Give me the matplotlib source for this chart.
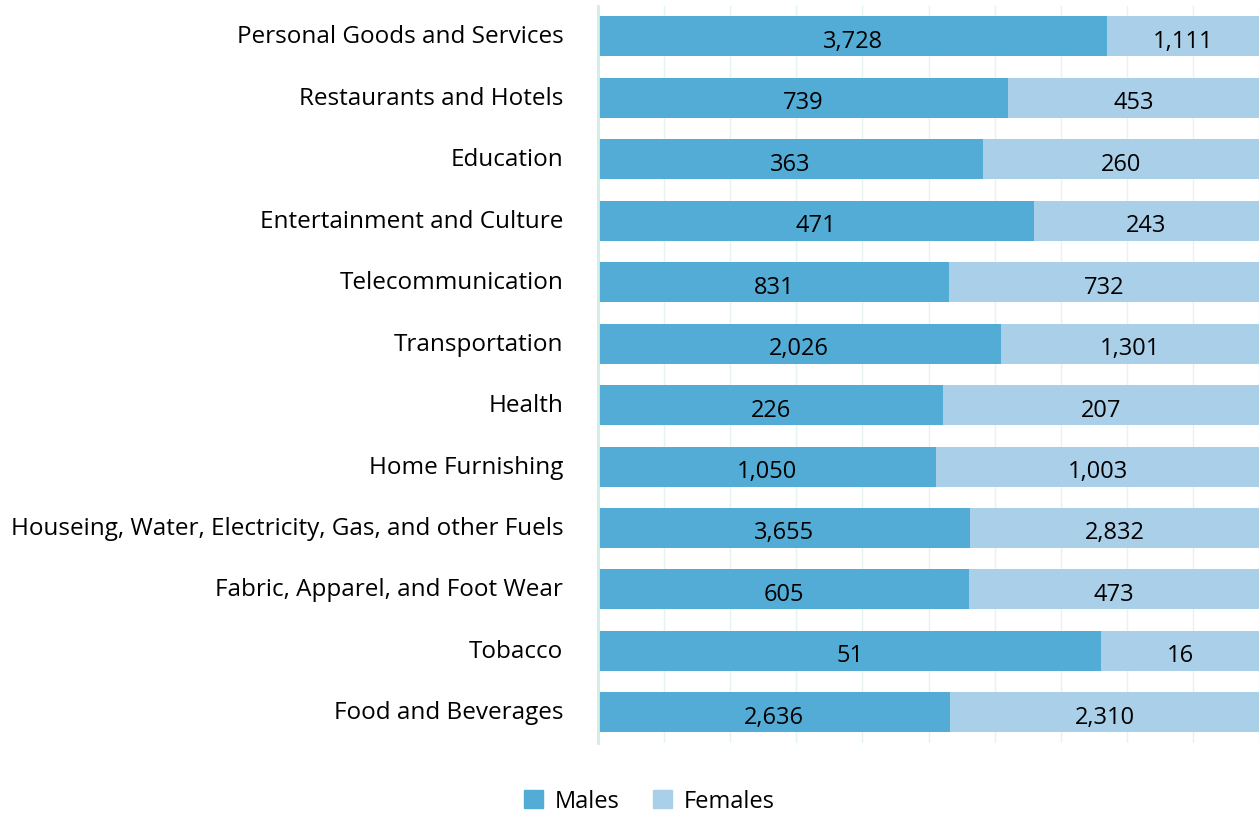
import numpy as np
import matplotlib.pyplot as plt
from matplotlib.transforms import ScaledTranslation

# data (top to bottom)
categories = ['Personal Goods and Services', 'Restaurants and Hotels', 'Education',
              'Entertainment and Culture', 'Telecommunication', 'Transportation',
              'Health', 'Home Furnishing',
              'Houseing, Water, Electricity, Gas, and other Fuels',
              'Fabric, Apparel, and Foot Wear', 'Tobacco', 'Food and Beverages']
males = [3728, 739, 363, 471, 831, 2026, 226, 1050, 3655, 605, 51, 2636]
females = [1111, 453, 260, 243, 732, 1301, 207, 1003, 2832, 473, 16, 2310]

c_male = '#53acd5'
c_female = '#aacfe9'

plt.rcParams['font.family'] = ['Open Sans', 'DejaVu Sans']

fig = plt.figure(figsize=(12.59, 8.13), dpi=100)
ax = fig.add_axes([0.475, 0.086, 0.525, 0.907])

m = np.array(males, dtype=float)
f = np.array(females, dtype=float)
tot = m + f
mp = m / tot * 100
fp = f / tot * 100
y = np.arange(len(categories))

ax.barh(y, mp, height=0.65, color=c_male, zorder=2)
ax.barh(y, fp, left=mp, height=0.65, color=c_female, zorder=2)

for i in range(len(categories)):
    ax.text(mp[i] / 2, y[i] + 0.04, f'{males[i]:,}', ha='center', va='center_baseline',
            fontsize=17, color='black', zorder=3)
    ax.text(mp[i] + fp[i] / 2, y[i] + 0.04, f'{females[i]:,}', ha='center',
            va='center_baseline', fontsize=17, color='black', zorder=3)

ax.set_xlim(0, 100)
ax.set_ylim(len(categories) - 0.5, -0.5)
ax.set_xticks(np.arange(0, 101, 10))
ax.set_xticklabels([])
ax.tick_params(axis='x', length=0)
ax.grid(axis='x', color='#e6f4ef', linewidth=1, zorder=0)
ax.set_yticks(y)
ax.set_yticklabels(categories, fontsize=17.5)
ax.tick_params(axis='y', length=0, pad=25)
shift = ScaledTranslation(0, 2 / 100, fig.dpi_scale_trans)
for lbl in ax.get_yticklabels():
    lbl.set_transform(lbl.get_transform() + shift)
for s in ['top', 'right', 'bottom']:
    ax.spines[s].set_visible(False)
ax.spines['left'].set_color('#d2eee4')
ax.spines['left'].set_linewidth(2)

handles = [plt.Rectangle((0, 0), 1, 1, color=c_male),
           plt.Rectangle((0, 0), 1, 1, color=c_female)]
fig.legend(handles, ['Males', 'Females'], loc='center', bbox_to_anchor=(0.516, 0.014),
           ncol=2, frameon=False, fontsize=17, handlelength=0.8, handleheight=0.8,
           handletextpad=0.5, columnspacing=1.4)

plt.savefig('out.png', dpi=100)
